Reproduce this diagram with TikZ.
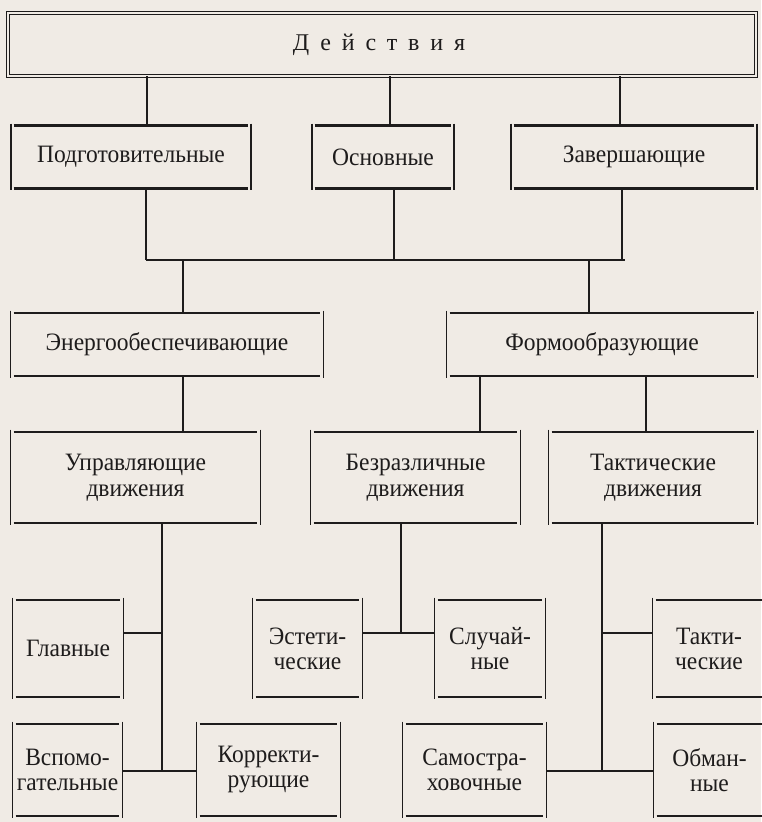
\documentclass[tikz,border=0pt]{standalone}
\usepackage{fontspec}
\setmainfont{Liberation Serif}[FakeStretch=0.94]
\newfontfamily\headfont[LetterSpace=45]{Liberation Serif}
\definecolor{paper}{RGB}{240,235,229}
\definecolor{ink}{RGB}{30,28,28}

\begin{document}
\begin{tikzpicture}[x=0.5pt, y=-0.5pt,
  bx/.style 2 args={minimum width=#1*0.5pt, minimum height=#2*0.5pt, inner sep=0pt,
    align=center, text=ink, font=\fontsize{12.5pt}{12.5pt}\selectfont},
  side/.style={ink, line width=0.75pt},
  rim/.style={ink, line width=1.05pt},
  link/.style={ink, line width=0.65pt},
  frame/.style={ink, double=paper, double distance=1pt, line width=0.5pt}]
  % page
  \useasboundingbox (0,0) rectangle (761,822);
  \fill[paper] (0,0) rectangle (761,822);

  % Действия
  \node[bx={748}{63}, font=\headfont\fontsize{12pt}{13pt}\selectfont] (act) at (379,44.5) {Действия};
  \draw[frame] (8,13) rectangle (756,76);

  % группы действий
  \node[bx={240}{62}] (prep) at (131,157) {Подготовительные};
  \node[bx={142}{62}] (osn) at (383,157) {Основные};
  \node[bx={246}{62}] (zav) at (634,157) {Завершающие};

  % по назначению
  \node[bx={312}{63}] (energ) at (167,344.5) {Энергообеспечивающие};
  \node[bx={310}{63}] (form) at (602,344.5) {Формообразующие};

  % движения
  \node[bx={249}{91}, font=\fontsize{12.5pt}{13pt}\selectfont] (upr) at (135.5,477.5) {Управляющие\\движения};
  \node[bx={209}{91}, font=\fontsize{12.5pt}{13pt}\selectfont] (bez) at (415.5,477.5) {Безразличные\\движения};
  \node[bx={208}{91}, font=\fontsize{12.5pt}{13pt}\selectfont] (takd) at (653,477.5) {Тактические\\движения};

  % виды движений
  \node[bx={110}{97}] (glav) at (68,648.5) {Главные};
  \node[bx={109}{97}] (estet) at (307.5,648.5) {Эстети-\\ческие};
  \node[bx={110}{97}] (slu) at (490,648.5) {Случай-\\ные};
  \node[bx={112}{97}] (takt) at (709,648.5) {Такти-\\ческие};
  \node[bx={109}{92}] (vspom) at (67.5,770) {Вспомо-\\гательные};
  \node[bx={143}{92}] (korr) at (268.5,770) {Корректи-\\рующие};
  \node[bx={143}{92}] (samo) at (474.5,770) {Самостра-\\ховочные};
  \node[bx={111}{92}] (obm) at (709.5,770) {Обман-\\ные};

  % рамки: боковины и полки с разрывом в углах
  \foreach \n/\w in {prep/1.4,osn/1.4,zav/1.4,energ/1,form/1,upr/1,bez/1,takd/1,
      glav/1,estet/1,slu/1,takt/1,vspom/1,korr/1,samo/1,obm/1} {
    \draw[side, line width=\w*0.75pt] ([yshift=1pt]\n.north west) -- ([yshift=-1pt]\n.south west);
    \draw[side, line width=\w*0.75pt] ([yshift=1pt]\n.north east) -- ([yshift=-1pt]\n.south east);
    \draw[rim, line width=\w*1.05pt] ([xshift=1.5pt]\n.north west) -- ([xshift=-1.5pt]\n.north east);
    \draw[rim, line width=\w*1.05pt] ([xshift=1.5pt]\n.south west) -- ([xshift=-1.5pt]\n.south east);
  }

  % узлы ветвления
  \coordinate (busL) at (146,260);
  \coordinate (busR) at (625,260);
  \coordinate (r5) at (0,633);
  \coordinate (sp1) at (162,771);
  \coordinate (sp2) at (401,633);
  \coordinate (sp3) at (602,771);

  % связи
  \foreach \x/\n in {147/prep, 390/osn, 620/zav}
    \draw[link] (act.south -| \x,0) -- (\n.north -| \x,0);
  \foreach \x/\n in {146/prep, 394/osn, 622/zav}
    \draw[link] (\n.south -| \x,0) -- (busL -| \x,0);
  \draw[link] (busL) -- (busR);
  \foreach \x/\n in {183/energ, 589/form}
    \draw[link] (busL -| \x,0) -- (\n.north -| \x,0);
  \foreach \x/\a/\b in {183/energ/upr, 480/form/bez, 646/form/takd}
    \draw[link] (\a.south -| \x,0) -- (\b.north -| \x,0);

  \draw[link] (upr.south -| sp1) -- (sp1);
  \draw[link] (bez.south -| sp2) -- (sp2);
  \draw[link] (takd.south -| sp3) -- (sp3);
  \draw[link] (glav.east |- r5) -- (sp1 |- r5);
  \draw[link] (vspom.east |- sp1) -- (korr.west |- sp1);
  \draw[link] (estet.east |- sp2) -- (slu.west |- sp2);
  \draw[link] (takt.west |- r5) -- (sp3 |- r5);
  \draw[link] (samo.east |- sp3) -- (obm.west |- sp3);
\end{tikzpicture}
\end{document}
